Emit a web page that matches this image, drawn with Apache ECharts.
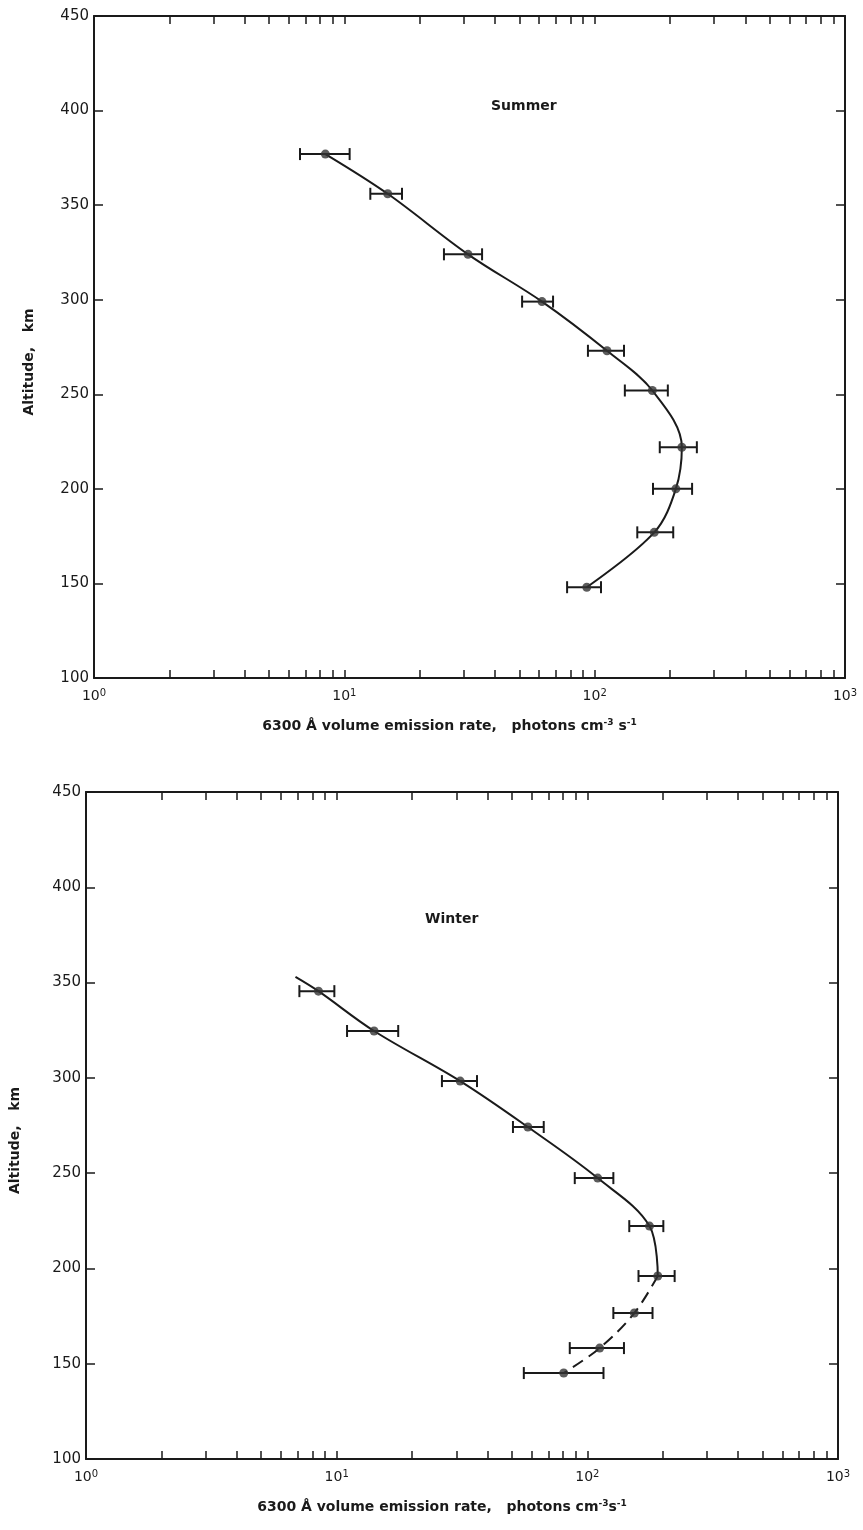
<!DOCTYPE html>
<html>
<head>
<meta charset="utf-8">
<title>6300 Å volume emission rate - Summer / Winter</title>
<script src="https://cdn.jsdelivr.net/npm/echarts@6/dist/echarts.min.js"></script>
<style>
  html, body { margin: 0; padding: 0; background: #fff; }
  #chart { width: 863px; height: 1530px; }
</style>
</head>
<body>
<div id="chart"></div>
<script>
// summer profile (altitude km, rate photons cm-3 s-1, error bar ends)
const summerAlt  = [377, 356, 324, 299, 273, 252, 222, 200, 177, 148];
const summerRate = [8.4, 14.9, 31.2, 61.6, 112, 170, 223, 211, 173, 93];
const summerLow  = [6.65, 12.7, 25.0, 51.3, 94, 132, 182, 171, 148, 77.6];
const summerHigh = [10.5, 17.0, 35.5, 68.2, 131, 196, 256, 245, 206, 106];

// winter profile
const winterAlt  = [345.5, 324.6, 298.3, 274.2, 247.4, 222.2, 196, 176.6, 158.2, 145.1];
const winterRate = [8.46, 14.1, 31.1, 57.9, 110, 177, 191, 154, 112, 80.5];
const winterLow  = [7.1, 11.0, 26.3, 50.5, 89.1, 147, 160, 127, 85.1, 55.8];
const winterHigh = [9.79, 17.6, 36.3, 67.0, 127, 201, 223, 182, 140, 116];
// winter curve begins a little above the first point
const winterCurveTop = [6.85, 353];
// points from this index down are joined by a dashed curve
const winterDashFrom = 6;

// axes
const altTicks = [100, 150, 200, 250, 300, 350, 400, 450];
const decades = [1, 10, 100, 1000];
const minorTicks = [2, 3, 4, 5, 6, 7, 8, 9, 20, 30, 40, 50, 60, 70, 80, 90,
  200, 300, 400, 500, 600, 700, 800, 900];

const ink = '#1a1a1a';
const font = 'DejaVu Sans';

function pairs(xs, ys) {
  return xs.map((x, i) => [x, ys[i]]);
}

function xAxes(gridIndex, unitTail) {
  const innerTicks = decades.slice(1, -1).concat(minorTicks);
  return [{
    gridIndex: gridIndex,
    type: 'log',
    logBase: 10,
    min: decades[0],
    max: decades[decades.length - 1],
    position: 'bottom',
    name: '6300 Å volume emission rate,   photons cm{s|-3}' + unitTail,
    nameLocation: 'middle',
    nameGap: 40,
    nameTextStyle: {
      color: ink, fontFamily: font, fontSize: 14, fontWeight: 'bold',
      padding: [0, 40, 0, 0],
      rich: {
        s: { fontSize: 9, fontWeight: 'bold', fontFamily: font, color: ink, verticalAlign: 'top', padding: [0, 0, 8, 0] }
      }
    },
    axisLine: { show: true, lineStyle: { color: ink, width: 2 } },
    axisTick: { show: true, inside: true, length: 8, customValues: innerTicks, lineStyle: { color: ink, width: 1.5 } },
    axisLabel: {
      show: true,
      customValues: decades,
      showMinLabel: true,
      showMaxLabel: true,
      margin: 10,
      formatter: function (v) {
        return '{b|10}{e|' + Math.round(Math.log10(v)) + '}';
      },
      rich: {
        b: { fontSize: 14, fontFamily: font, color: ink },
        e: { fontSize: 10, fontFamily: font, color: ink, verticalAlign: 'top', padding: [0, 0, 7, 0] }
      }
    },
    splitLine: { show: false }
  }, {
    gridIndex: gridIndex,
    type: 'log',
    logBase: 10,
    min: decades[0],
    max: decades[decades.length - 1],
    position: 'top',
    axisLine: { show: true, lineStyle: { color: ink, width: 2 } },
    axisTick: { show: true, inside: true, length: 8, customValues: innerTicks, lineStyle: { color: ink, width: 1.5 } },
    axisLabel: { show: false },
    splitLine: { show: false }
  }];
}

function yAxes(gridIndex, nameGap) {
  const base = {
    gridIndex: gridIndex,
    type: 'value',
    min: altTicks[0],
    max: altTicks[altTicks.length - 1],
    interval: altTicks[1] - altTicks[0],
    axisLine: { show: true, lineStyle: { color: ink, width: 2 } },
    axisTick: { show: true, inside: true, length: 9, lineStyle: { color: ink, width: 1.5 } },
    splitLine: { show: false }
  };
  return [Object.assign({}, base, {
    position: 'left',
    name: 'Altitude,   km',
    nameLocation: 'middle',
    nameGap: nameGap,
    nameTextStyle: { color: ink, fontFamily: font, fontSize: 14, fontWeight: 'bold', padding: [0, 30, 0, 0] },
    axisLabel: { color: ink, fontFamily: font, fontSize: 15, margin: 5 }
  }), Object.assign({}, base, {
    position: 'right',
    axisLabel: { show: false }
  })];
}

function errorBars(xi, yi, low, high, alt) {
  return {
    type: 'custom',
    xAxisIndex: xi,
    yAxisIndex: yi,
    data: alt.map((a, i) => [low[i], high[i], a]),
    encode: { x: [0, 1], y: 2 },
    z: 3,
    renderItem: function (params, api) {
      const a = api.coord([api.value(0), api.value(2)]);
      const b = api.coord([api.value(1), api.value(2)]);
      const h = 6;
      const st = { stroke: ink, lineWidth: 2 };
      return {
        type: 'group',
        children: [
          { type: 'line', shape: { x1: a[0], y1: a[1], x2: b[0], y2: b[1] }, style: st },
          { type: 'line', shape: { x1: a[0], y1: a[1] - h, x2: a[0], y2: a[1] + h }, style: st },
          { type: 'line', shape: { x1: b[0], y1: b[1] - h, x2: b[0], y2: b[1] + h }, style: st }
        ]
      };
    }
  };
}

function dots(xi, yi, rate, alt) {
  return {
    type: 'scatter',
    xAxisIndex: xi,
    yAxisIndex: yi,
    data: pairs(rate, alt),
    symbol: 'circle',
    symbolSize: 9,
    itemStyle: { color: '#333' },
    z: 4
  };
}

function curve(xi, yi, data, dashed) {
  return {
    type: 'line',
    xAxisIndex: xi,
    yAxisIndex: yi,
    data: data,
    smooth: 0.35,
    showSymbol: false,
    symbol: 'none',
    lineStyle: { color: ink, width: 2, type: dashed ? [12, 7] : 'solid' },
    z: 2
  };
}

const summerPts = pairs(summerRate, summerAlt);
const winterPts = pairs(winterRate, winterAlt);

const chart = echarts.init(document.getElementById('chart'), null, { renderer: 'canvas' });
chart.setOption({
  backgroundColor: '#fff',
  animation: false,
  textStyle: { fontFamily: font },
  title: [
    { text: 'Summer', left: 486, top: 94, textStyle: { color: ink, fontFamily: font, fontSize: 14, fontWeight: 'bold' } },
    { text: 'Winter', left: 420, top: 907, textStyle: { color: ink, fontFamily: font, fontSize: 14, fontWeight: 'bold' } }
  ],
  grid: [
    { left: 94, top: 16, width: 751, height: 662 },
    { left: 84, top: 792, width: 754, height: 667 }
  ],
  xAxis: xAxes(0, ' s{s|-1}').concat(xAxes(1, 's{s|-1}')),
  yAxis: yAxes(0, 58).concat(yAxes(1, 64)),
  series: [
    curve(0, 0, summerPts, false),
    errorBars(0, 0, summerLow, summerHigh, summerAlt),
    dots(0, 0, summerRate, summerAlt),

    curve(2, 2, [winterCurveTop].concat(winterPts.slice(0, winterDashFrom + 1)), false),
    curve(2, 2, winterPts.slice(winterDashFrom), true),
    errorBars(2, 2, winterLow, winterHigh, winterAlt),
    dots(2, 2, winterRate, winterAlt)
  ]
});
</script>
</body>
</html>
